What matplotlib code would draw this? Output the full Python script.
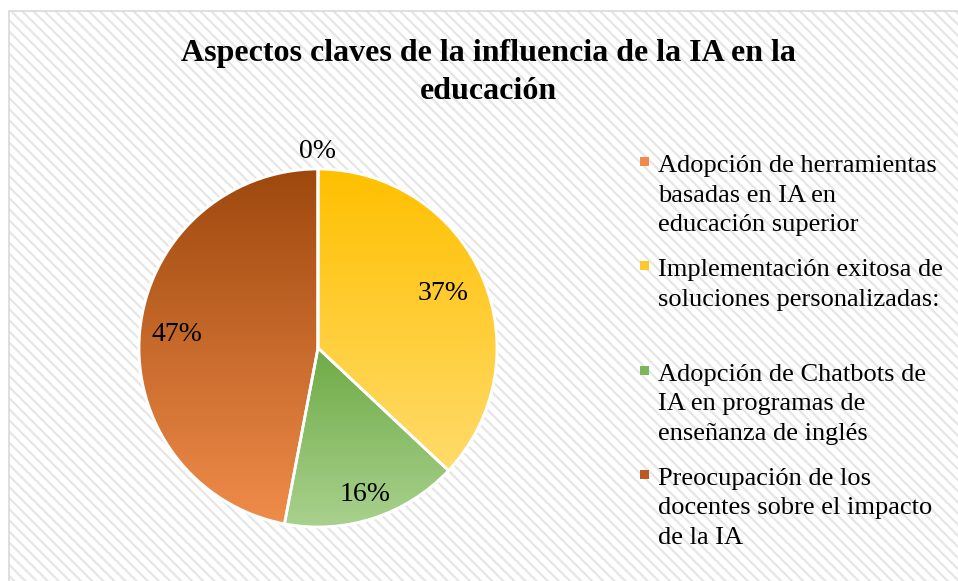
import numpy as np
import matplotlib
matplotlib.use("Agg")
import matplotlib.pyplot as plt
from matplotlib.patches import Rectangle, Wedge
from matplotlib.colors import LinearSegmentedColormap

# ---- data ----
categories = [
    "Adopción de herramientas\nbasadas en IA en\neducación superior",
    "Implementación exitosa de\nsoluciones personalizadas:\n ",
    "Adopción de Chatbots de\nIA en programas de\nenseñanza de inglés",
    "Preocupación de los\ndocentes sobre el impacto\nde la IA",
]
values = [0, 37, 16, 47]
pct_labels = ["0%", "37%", "16%", "47%"]
title = "Aspectos claves de la influencia de la IA en la\neducación"

# ---- style ----
grad_top = ["#ED7D31", "#FFC000", "#6EAB46", "#9E480E"]
grad_bottom = ["#F4B183", "#FFDB6B", "#A9D18E", "#F08C4A"]
marker_colors = ["#EF8A4A", "#FFC72C", "#7DB55A", "#B85A22"]
label_dist = [1.1, 0.76, 0.86, 0.79]
FONT = "Liberation Serif"

W, H = 958, 581
plt.rcParams["hatch.linewidth"] = 1.6
fig = plt.figure(figsize=(W / 100, H / 100), dpi=100)
fig.patch.set_facecolor("white")

# background with diagonal pattern
bg = Rectangle((9 / W, -0.02), 1.0, (H - 11) / H + 0.02, transform=fig.transFigure,
               facecolor="white", edgecolor="#E6E6E6", hatch="\\\\\\", linewidth=0, zorder=-3)
fig.patches.append(bg)
border = Rectangle((9 / W, -0.02), 1.0, (H - 11) / H + 0.02, transform=fig.transFigure,
                   fill=False, edgecolor="#D9D9D9", linewidth=1.2, zorder=-2)
fig.patches.append(border)

# pie axes
cx, cy, R = 318, 348, 179
ax = fig.add_axes([(cx - R) / W, (H - cy - R) / H, 2 * R / W, 2 * R / H])
ax.set_facecolor("none")
ax.set_zorder(2)
wedges, _ = ax.pie(values, startangle=90, counterclock=False, radius=1,
                   colors=grad_top,
                   wedgeprops=dict(edgecolor="white", linewidth=2))

for i, w in enumerate(wedges):
    if values[i] <= 0:
        continue
    ang = np.radians(np.linspace(w.theta1, w.theta2, 300))
    xs = np.concatenate([[0], np.cos(ang)])
    ys = np.concatenate([[0], np.sin(ang)])
    ext = [xs.min(), xs.max(), ys.min(), ys.max()]
    cmap = LinearSegmentedColormap.from_list("g%d" % i, [grad_bottom[i], grad_top[i]])
    grad = np.linspace(0, 1, 256).reshape(-1, 1)
    im = ax.imshow(grad, extent=ext, origin="lower", cmap=cmap, aspect="auto", zorder=1.5)
    im.set_clip_path(w)

for w in wedges:
    ax.add_patch(Wedge(w.center, w.r, w.theta1, w.theta2, fill=False,
                       edgecolor="white", linewidth=2, zorder=3))

for i, w in enumerate(wedges):
    mid = np.radians((w.theta1 + w.theta2) / 2)
    d = label_dist[i]
    ax.text(d * np.cos(mid), d * np.sin(mid), pct_labels[i], ha="center", va="center",
            fontsize=20, family=FONT, color="black", zorder=4, clip_on=False)

ax.set_xlim(-1, 1)
ax.set_ylim(-1, 1)
ax.axis("off")

# title (baseline of last line)
fig.text(488 / W, 1 - 99 / H, title, ha="center", va="baseline", fontsize=23,
         fontweight="bold", family=FONT, linespacing=1.42)

# legend
for i, lab in enumerate(categories):
    yb = 171 + i * 104.3
    fig.text(658 / W, 1 - (yb + 60) / H, lab, ha="left", va="baseline", fontsize=19,
             family=FONT, linespacing=1.44)
    fig.patches.append(Rectangle((640 / W, 1 - (yb - 5) / H), 9 / W, 9 / H,
                                 transform=fig.transFigure, facecolor=marker_colors[i],
                                 edgecolor="none"))

fig.savefig("out.png", dpi=100)
